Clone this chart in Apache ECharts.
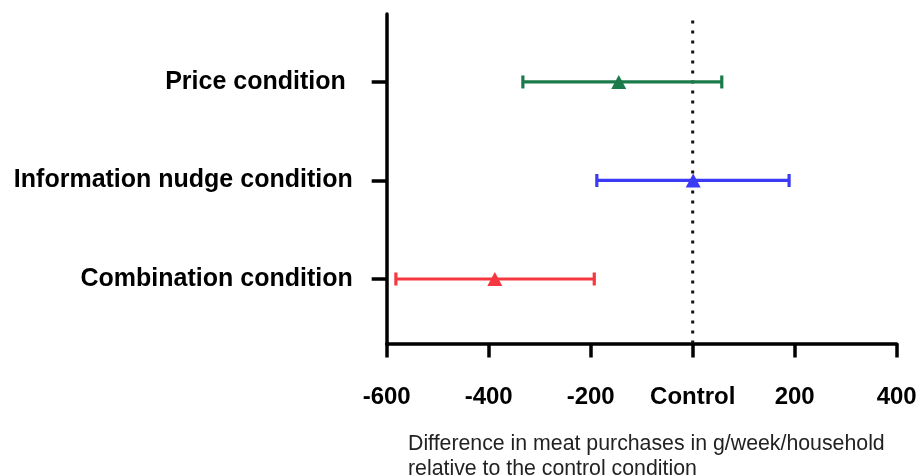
<!DOCTYPE html>
<html>
<head>
<meta charset="utf-8">
<script src="https://cdn.jsdelivr.net/npm/echarts@6/dist/echarts.min.js"></script>
<style>html,body{margin:0;padding:0;background:#fff}#c{width:917px;height:476px}</style>
</head>
<body>
<div id="c"></div>
<script>
const categories = ['Combination condition', 'Information nudge condition', 'Price condition '];
const categoryPos = [1, 2, 3];
const means = [-388, 1, -145];
const lows = [-582, -188, -333];
const highs = [-193, 189, 57];
const colors = ['#f5383f', '#3b3bf5', '#1a7a4a'];
const xTickLabels = {'-600': '-600', '-400': '-400', '-200': '-200', '0': 'Control', '200': '200', '400': '400'};
const xTitle = 'Difference in meat purchases in g/week/household\nrelative to the control condition';

const FONT = '"Liberation Sans", Arial, Helvetica, sans-serif';
const chart = echarts.init(document.getElementById('c'));

const errData = categoryPos.map((p, i) => [lows[i], highs[i], p, i]);
const meanData = categoryPos.map((p, i) => ({value: [means[i], p], itemStyle: {color: colors[i], opacity: 1}}));

chart.setOption({
  animation: false,
  title: {
    text: xTitle,
    left: 403, top: 427,
    textStyle: {fontFamily: FONT, fontSize: 21.3, fontWeight: 'normal', color: '#222', lineHeight: 25}
  },
  grid: {left: 386.7, right: 20.3, top: 14, bottom: 476 - 343.5, outerBoundsMode: 'none', containLabel: false},
  xAxis: {
    type: 'value', min: -600, max: 400, interval: 200,
    axisLine: {show: true, onZero: false, lineStyle: {color: '#000', width: 3.5}},
    axisTick: {show: true, length: 14, lineStyle: {color: '#000', width: 3.5}},
    splitLine: {show: false},
    axisLabel: {
      margin: 42, color: '#000', fontFamily: FONT, fontSize: 24, fontWeight: 'bold',
      formatter: v => xTickLabels[String(v)] ?? String(v)
    }
  },
  yAxis: {
    type: 'value', min: 0.345, max: 3.69,
    axisLine: {show: true, onZero: false, lineStyle: {color: '#000', width: 3.5}},
    axisTick: {show: true, length: 15, customValues: categoryPos, lineStyle: {color: '#000', width: 3.5}},
    splitLine: {show: false},
    axisLabel: {
      margin: 34, color: '#000', fontFamily: FONT, fontSize: 25, fontWeight: 'bold',
      customValues: categoryPos,
      formatter: v => categories[categoryPos.indexOf(Math.round(v))] ?? ''
    }
  },
  series: [
    {
      type: 'line',
      data: [[0, 0.345], [0, 3.69]],
      symbol: 'none',
      silent: true,
      lineStyle: {color: '#111', width: 3, type: [3, 7]},
      z: 1
    },
    {
      type: 'custom',
      data: errData,
      encode: {x: [0, 1], y: 2},
      z: 2,
      renderItem: (params, api) => {
        const lo = api.coord([api.value(0), api.value(2)]);
        const hi = api.coord([api.value(1), api.value(2)]);
        const c = colors[api.value(3)];
        const h = 6.5;
        const st = {stroke: c, lineWidth: 3.2};
        return {
          type: 'group',
          children: [
            {type: 'line', shape: {x1: lo[0], y1: lo[1], x2: hi[0], y2: hi[1]}, style: st},
            {type: 'line', shape: {x1: lo[0], y1: lo[1] - h, x2: lo[0], y2: lo[1] + h}, style: st},
            {type: 'line', shape: {x1: hi[0], y1: hi[1] - h, x2: hi[0], y2: hi[1] + h}, style: st}
          ]
        };
      }
    },
    {
      type: 'scatter',
      data: meanData,
      symbol: 'triangle',
      symbolSize: [15, 14],
      itemStyle: {opacity: 1},
      z: 3
    }
  ]
});
</script>
</body>
</html>
